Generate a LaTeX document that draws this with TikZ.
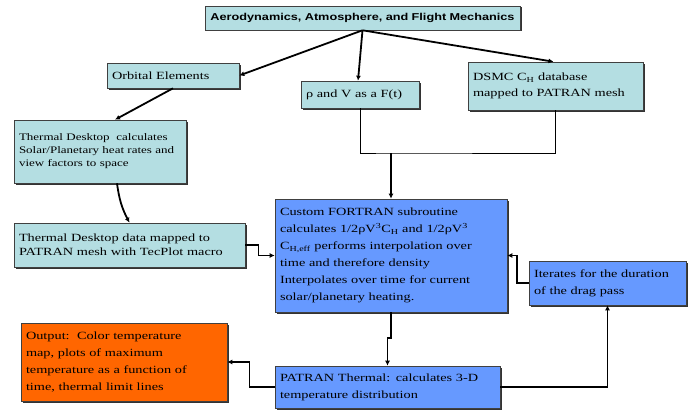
\documentclass[tikz,border=0pt]{standalone}
\usepackage{fontspec}
\setmainfont{Liberation Serif}[FakeStretch=1.3]
\newfontfamily\headfont{Liberation Sans}[FakeStretch=1.27]
\usetikzlibrary{arrows.meta,shadows}

\definecolor{paleblue}{RGB}{180,222,226}
\definecolor{midblue}{RGB}{102,153,255}
\definecolor{burnt}{RGB}{255,102,0}

\begin{document}
\begin{tikzpicture}[x=1pt,y=-1pt,
    box/.style={draw=black!75,line width=0.6pt,fill=paleblue,
        general shadow={fill=black!80,shadow xshift=1.5pt,shadow yshift=-1.5pt},
        inner xsep=5pt,inner ysep=1pt,align=left,
        font={\fontsize{11}{14}\selectfont}},
    bluebox/.style={box,fill=midblue,font={\fontsize{11}{17}\selectfont}},
    link/.style={line width=1.8pt,-{Latex[length=5pt,width=5pt]}},
    thinlink/.style={line width=1.1pt,-{Latex[length=5pt,width=5pt]}},
    feed/.style={line width=1pt}]
\useasboundingbox (0,0) rectangle (692,412);

% top row
\node[box,text width=305pt,minimum height=24pt,align=center,
      font={\headfont\bfseries\fontsize{10}{12}\selectfont}] (aero) at (362.5,18)
    {Aerodynamics, Atmosphere, and Flight Mechanics};
\node[box,text width=122pt,minimum height=25pt] (orbit) at (173,75.5) {Orbital Elements};
\node[box,text width=108pt,minimum height=27pt] (rho) at (360,94.5) {ρ and V as a F(t)};
\node[box,text width=165pt,minimum height=48pt,font={\fontsize{11}{16}\selectfont}] (dsmc) at (555.5,86)
    {DSMC C\textsubscript{H} database\\mapped to PATRAN mesh};

% thermal desktop side
\node[box,text width=162pt,minimum height=63pt,font={\fontsize{10}{13}\selectfont}] (tdcalc) at (100,151.5)
    {Thermal Desktop\ \ calculates\\Solar/Planetary heat rates and\\view factors to space};
\node[box,text width=221pt,minimum height=44pt] (tddata) at (129.5,245)
    {Thermal Desktop data mapped to\\PATRAN mesh with TecPlot macro};

% solver
\node[bluebox,text width=222pt,minimum height=113pt] (fortran) at (391,255.5)
    {Custom FORTRAN subroutine\\
     calculates 1/2ρV\textsuperscript{3}C\textsubscript{H} and 1/2ρV\textsuperscript{3}\\
     C\textsubscript{H,eff} performs interpolation over\\
     time and therefore density\\
     Interpolates over time for current\\
     solar/planetary heating.};
\node[bluebox,text width=147pt,minimum height=44pt] (iter) at (607.5,283)
    {Iterates for the duration\\of the drag pass};
\node[bluebox,text width=215pt,minimum height=42pt] (patran) at (387.5,387)
    {PATRAN Thermal: calculates 3-D\\temperature distribution};
\node[bluebox,fill=burnt,text width=196pt,minimum height=78pt] (output) at (124,362)
    {Output:\ \ Color temperature\\map, plots of maximum\\temperature as a function of\\time, thermal limit lines};

\coordinate (merge) at (391,153);

\draw[link] (aero.south) -- (orbit.east);
\draw[link] (aero.south) -- ([xshift=-2pt]rho.north);
\draw[link] (aero.south) -- ([xshift=-2pt]dsmc.north);
\draw[link] (orbit.south) -- ([xshift=15pt]tdcalc.north);
\draw[link] ([xshift=17pt]tdcalc.south) to[bend right=10] (tddata.north);
\draw[thinlink] (tddata.east) -- ++(13,0) |- (fortran.west);
\draw[feed] (rho.south) |- (merge) -| (dsmc.south);
\draw[link] (merge) -- (fortran.north);
\draw[link] (iter.west) -- ++(-12,0) |- (fortran.east);
\draw[link] (fortran.south) -- ++(0,26) -| (patran.north);
\draw[thinlink] (patran.east) -| (iter.south);
\draw[thinlink] (patran.west) -- ++(-25,0) |- (output.east);
\end{tikzpicture}
\end{document}
